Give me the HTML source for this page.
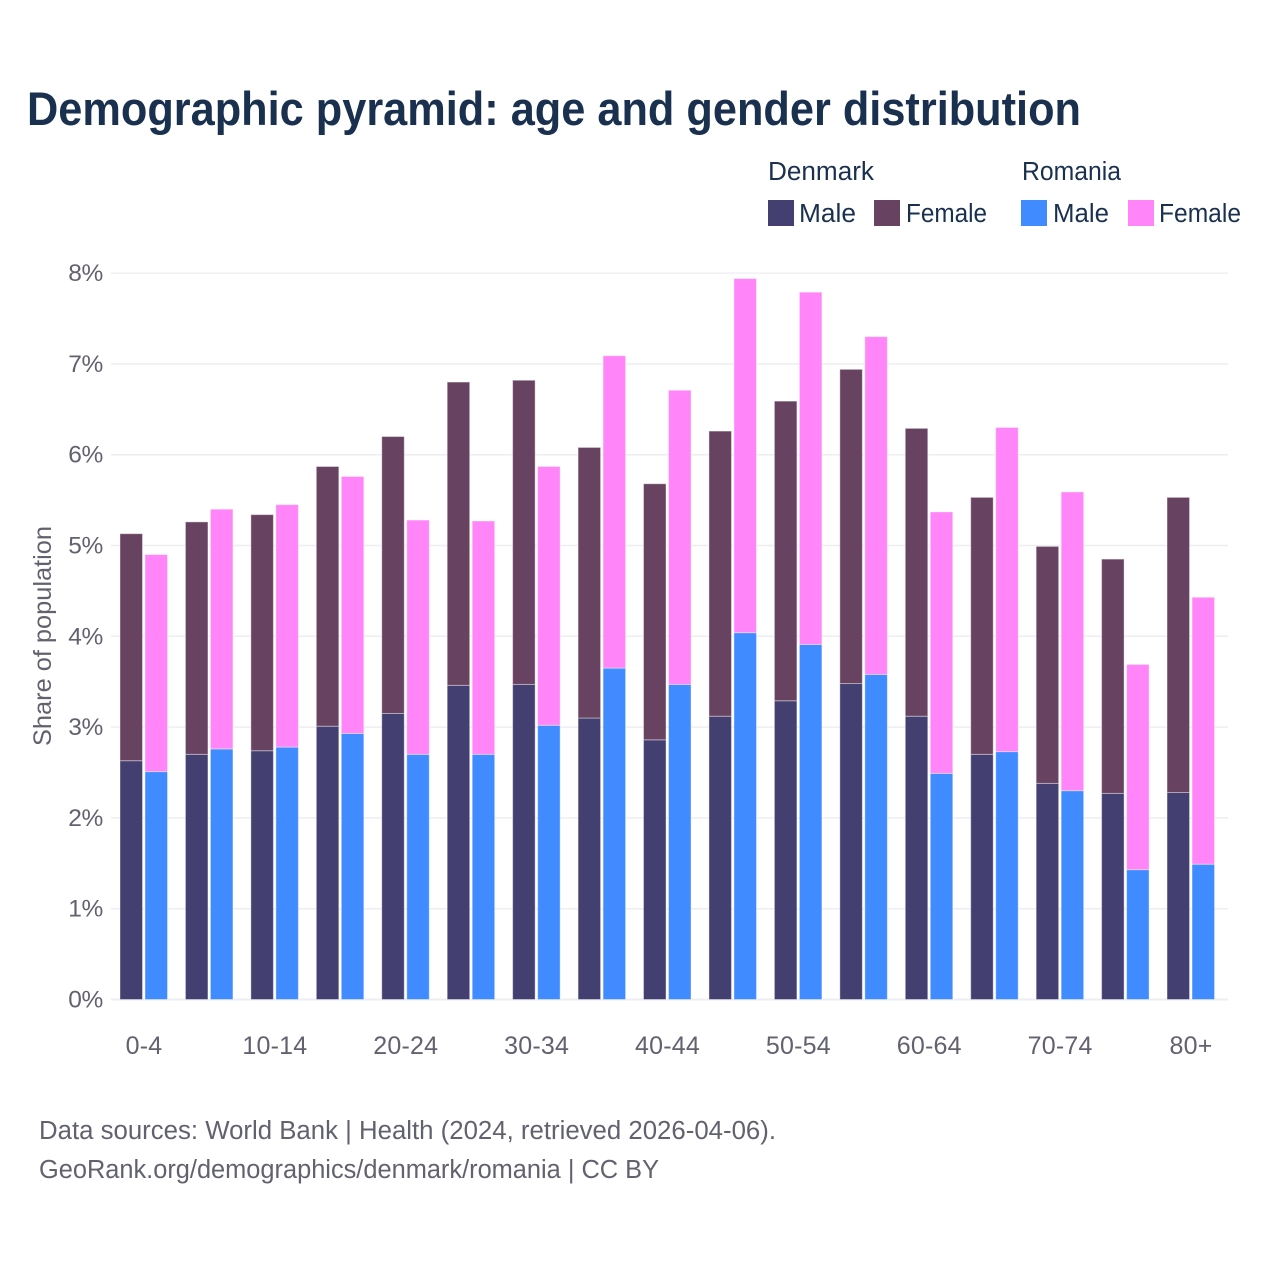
<!DOCTYPE html>
<html lang="en">
<head>
<meta charset="utf-8">
<title>Demographic pyramid</title>
<style>
html,body{margin:0;padding:0;background:#fff;width:1280px;height:1280px;overflow:hidden}
svg{display:block;font-family:"Liberation Sans",sans-serif}
</style>
</head>
<body>
<svg id="chart" xmlns="http://www.w3.org/2000/svg" width="1280" height="1280" viewBox="0 0 1280 1280">
  <rect x="0" y="0" width="1280" height="1280" fill="#fff"/>
  <text x="27" y="125" font-size="47" font-weight="700" fill="#1a304f" textLength="1054" lengthAdjust="spacingAndGlyphs">Demographic pyramid: age and gender distribution</text>

  <g font-size="25.5" fill="#1a304f">
    <text x="768" y="180" textLength="106" lengthAdjust="spacingAndGlyphs">Denmark</text>
    <text x="1022" y="180" textLength="99" lengthAdjust="spacingAndGlyphs">Romania</text>
    <rect x="768" y="200" width="26" height="26" fill="#433f70"/>
    <text x="799" y="222" textLength="57" lengthAdjust="spacingAndGlyphs">Male</text>
    <rect x="874" y="200" width="26" height="26" fill="#684261"/>
    <text x="906" y="222" textLength="81" lengthAdjust="spacingAndGlyphs">Female</text>
    <rect x="1021" y="200" width="26" height="26" fill="#408bff"/>
    <text x="1053" y="222" textLength="56" lengthAdjust="spacingAndGlyphs">Male</text>
    <rect x="1128" y="200" width="26" height="26" fill="#ff85f8"/>
    <text x="1159" y="222" textLength="82" lengthAdjust="spacingAndGlyphs">Female</text>
  </g>

  <g id="grid"></g>
  <g id="bars"></g>
  <g id="yticks"></g>
  <g id="xticks"></g>

  <text transform="translate(51,636) rotate(-90)" text-anchor="middle" font-size="25" fill="#62626f" textLength="220" lengthAdjust="spacingAndGlyphs">Share of population</text>

  <text x="39" y="1139" font-size="25.5" fill="#62626f" textLength="737" lengthAdjust="spacingAndGlyphs">Data sources: World Bank | Health (2024, retrieved 2026-04-06).</text>
  <text x="39" y="1178" font-size="25.5" fill="#62626f" textLength="620" lengthAdjust="spacingAndGlyphs">GeoRank.org/demographics/denmark/romania | CC BY</text>
</svg>
<script>
const ageGroups = ['0-4','5-9','10-14','15-19','20-24','25-29','30-34','35-39','40-44','45-49','50-54','55-59','60-64','65-69','70-74','75-79','80+'];
const xTickLabels = ['0-4','10-14','20-24','30-34','40-44','50-54','60-64','70-74','80+'];
const yTickValues = [0,1,2,3,4,5,6,7,8];
const denmarkMale = [2.63,2.70,2.74,3.01,3.15,3.46,3.47,3.10,2.86,3.12,3.29,3.48,3.12,2.70,2.38,2.27,2.28];
const denmarkFemale = [2.50,2.56,2.60,2.86,3.05,3.34,3.35,2.98,2.82,3.14,3.30,3.46,3.17,2.83,2.61,2.58,3.25];
const romaniaMale = [2.51,2.76,2.78,2.93,2.70,2.70,3.02,3.65,3.47,4.04,3.91,3.58,2.49,2.73,2.30,1.43,1.49];
const romaniaFemale = [2.39,2.64,2.67,2.83,2.58,2.57,2.85,3.44,3.24,3.90,3.88,3.72,2.88,3.57,3.29,2.26,2.94];

const NS = 'http://www.w3.org/2000/svg';
const plotLeft = 111, plotRight = 1228, y0 = 999.5, yPerUnit = 90.8;
const firstCenter = 144, groupStep = 65.44, barWidth = 22.5;
function yScale(v) { return y0 - v * yPerUnit; }
function xScale(cat) { return firstCenter + groupStep * ageGroups.indexOf(cat); }
function make(tag, attrs) {
  const el = document.createElementNS(NS, tag);
  for (const k in attrs) el.setAttribute(k, attrs[k]);
  return el;
}

const grid = document.getElementById('grid');
const yticks = document.getElementById('yticks');
yTickValues.forEach(function (v) {
  const line = make('line', { x1: plotLeft, x2: plotRight, y1: yScale(v), y2: yScale(v), stroke: v === 8 ? '#f1f1f3' : '#eeeef0', 'stroke-width': v === 0 ? 2 : 1.5 });
  
  
  grid.appendChild(line);
  const t = make('text', { x: 103, y: yScale(v) + 8, 'text-anchor': 'end', 'font-size': 24.5, 'letter-spacing': -0.3, fill: '#62626f' });
  t.textContent = v + '%';
  
  
  yticks.appendChild(t);
});

const xticks = document.getElementById('xticks');
xTickLabels.forEach(function (label) {
  const t = make('text', { x: xScale(label), y: 1054, 'text-anchor': 'middle', 'font-size': 25, 'letter-spacing': 0.2, fill: '#62626f' });
  t.textContent = label;
  
  
  xticks.appendChild(t);
});

const bars = document.getElementById('bars');
function drawSegment(x, base, value, fill, name) {
  const top = yScale(base + value);
  const r = make('rect', { x: x, y: top, width: barWidth, height: yScale(base) - top, fill: fill, stroke: 'rgba(255,255,255,0.4)', 'stroke-width': 1 });
  
  
  bars.appendChild(r);
}
ageGroups.forEach(function (cat, i) {
  const cx = xScale(cat);
  const left = cx - 24, right = cx + 1;
  drawSegment(left, 0, denmarkMale[i], '#433f70', 'bar-denmark-male-' + cat);
  drawSegment(left, denmarkMale[i], denmarkFemale[i], '#684261', 'bar-denmark-female-' + cat);
  drawSegment(right, 0, romaniaMale[i], '#408bff', 'bar-romania-male-' + cat);
  drawSegment(right, romaniaMale[i], romaniaFemale[i], '#ff85f8', 'bar-romania-female-' + cat);
});
</script>
</body>
</html>
